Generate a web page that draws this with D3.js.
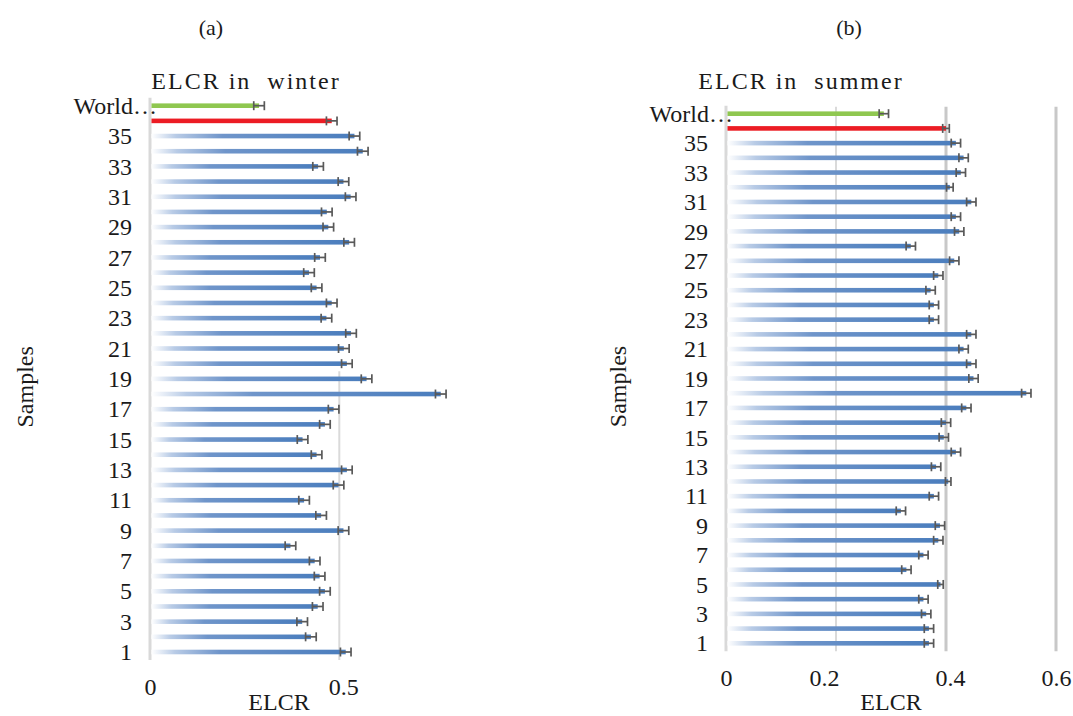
<!DOCTYPE html>
<html>
<head>
<meta charset="utf-8">
<script src="https://cdn.jsdelivr.net/npm/d3@7"></script>
<style>
    body { margin: 0; background: #fff; }
    text { font-family: "Liberation Serif", "Times New Roman", serif; fill: #1a1a1a; }
</style>
</head>
<body>
<svg id="chart"></svg>
<script>
// Sample ids, then the mean (red bar, label hidden) and the world value (green bar)
const categories = ['1', '2', '3', '4', '5', '6', '7', '8', '9', '10',
    '11', '12', '13', '14', '15', '16', '17', '18', '19', '20',
    '21', '22', '23', '24', '25', '26', '27', '28', '29', '30',
    '31', '32', '33', '34', '35', 'Mean', 'World…'];

const winterValues = [0.517, 0.425, 0.402, 0.443, 0.462, 0.448, 0.435, 0.371, 0.511, 0.452,
    0.407, 0.498, 0.520, 0.440, 0.403, 0.462, 0.485, 0.768, 0.572, 0.520,
    0.512, 0.531, 0.466, 0.480, 0.440, 0.420, 0.449, 0.526, 0.471, 0.467,
    0.530, 0.511, 0.444, 0.562, 0.540, 0.480, 0.288];
const winterErrors = [0.014, 0.014, 0.014, 0.014, 0.014, 0.014, 0.014, 0.014, 0.014, 0.014,
    0.014, 0.014, 0.014, 0.014, 0.014, 0.014, 0.014, 0.014, 0.014, 0.014,
    0.014, 0.014, 0.014, 0.014, 0.014, 0.014, 0.014, 0.014, 0.014, 0.014,
    0.014, 0.014, 0.014, 0.014, 0.014, 0.014, 0.014];

const summerValues = [0.369, 0.369, 0.364, 0.359, 0.390, 0.328, 0.359, 0.386, 0.389, 0.318,
    0.378, 0.404, 0.382, 0.418, 0.396, 0.400, 0.437, 0.546, 0.450, 0.446,
    0.432, 0.446, 0.378, 0.378, 0.372, 0.386, 0.415, 0.336, 0.424, 0.418,
    0.446, 0.407, 0.427, 0.432, 0.418, 0.400, 0.287];
const summerErrors = [0.0085, 0.0085, 0.0085, 0.0085, 0.005, 0.0085, 0.0085, 0.0085, 0.0085, 0.0085,
    0.0085, 0.005, 0.0085, 0.0085, 0.0085, 0.0085, 0.0085, 0.0085, 0.0085, 0.0085,
    0.0085, 0.0085, 0.0085, 0.0085, 0.0085, 0.0085, 0.0085, 0.0085, 0.0085, 0.0085,
    0.0085, 0.006, 0.0085, 0.0085, 0.0085, 0.006, 0.0085];

const winterTicks = [0, 0.5];
const summerTicks = [0, 0.2, 0.4, 0.6];

class ElcrChart {
    constructor(_config, _data) {
        this.config = {
            svg: _config.svg,
            xRange: _config.xRange,
            yRange: _config.yRange,
            xMax: _config.xMax,
            ticks: _config.ticks,
            title: _config.title,
            titleX: _config.titleX,
            panelLabel: _config.panelLabel,
            panelLabelX: _config.panelLabelX,
            samplesX: _config.samplesX,
            axisLabel: _config.axisLabel,
            tickShift: _config.tickShift || {},
            partialGrid: _config.partialGrid || null
        }
        this.data = _data;
        this.initVis();
    }

    initVis() {
        let vis = this;

        vis.xScale = d3.scaleLinear()
            .domain([0, vis.config.xMax])
            .range(vis.config.xRange);

        vis.yScale = d3.scalePoint()
            .domain(categories)
            .range(vis.config.yRange);

        vis.top = vis.yScale('World…') - 8;
        vis.bottom = vis.yScale('1') + 8;

        vis.chart = vis.config.svg.append('g');

        vis.renderVis();
    }

    renderVis() {
        let vis = this;
        const step = vis.yScale.step();

        // Vertical gridlines
        vis.chart.selectAll('.grid')
            .data(vis.config.ticks)
            .join('line')
            .attr('class', 'grid')
            .attr('x1', d => vis.xScale(d))
            .attr('x2', d => vis.xScale(d))
            .attr('y1', d => {
                if (d > 0 && vis.config.partialGrid) return vis.yScale(vis.config.partialGrid) + step / 2;
                return d === 0 ? vis.top : vis.top + 1;
            })
            .attr('y2', vis.bottom)
            .attr('stroke', (d, i) => (i === 1 ? '#dadada' : (d === 0 ? '#d9d9d9' : '#c8c8c8')))
            .attr('stroke-width', (d, i) => (i === 1 ? 2 : 3));

        const x0 = vis.xScale(0) + 1.5;

        vis.chart.selectAll('.bar')
            .data(vis.data)
            .join('rect')
            .attr('class', 'bar')
            .attr('x', x0)
            .attr('y', d => vis.yScale(d.cat) - 2.3)
            .attr('width', d => vis.xScale(d.value) - x0)
            .attr('height', 4.6)
            .attr('fill', d => {
                if (d.cat === 'World…') return '#8fc750';
                if (d.cat === 'Mean') return '#ec1c24';
                return 'url(#barGrad)';
            });

        // Error bars
        const err = vis.chart.selectAll('.err')
            .data(vis.data)
            .join('g')
            .attr('class', 'err')
            .attr('stroke', '#595959')
            .attr('stroke-width', 1.7);

        err.append('line')
            .attr('x1', d => vis.xScale(d.value - d.error))
            .attr('x2', d => vis.xScale(d.value + d.error))
            .attr('y1', d => vis.yScale(d.cat))
            .attr('y2', d => vis.yScale(d.cat));
        err.append('line')
            .attr('x1', d => vis.xScale(d.value - d.error))
            .attr('x2', d => vis.xScale(d.value - d.error))
            .attr('y1', d => vis.yScale(d.cat) - 4.5)
            .attr('y2', d => vis.yScale(d.cat) + 4.5);
        err.append('line')
            .attr('x1', d => vis.xScale(d.value + d.error))
            .attr('x2', d => vis.xScale(d.value + d.error))
            .attr('y1', d => vis.yScale(d.cat) - 4.5)
            .attr('y2', d => vis.yScale(d.cat) + 4.5);

        // Category axis, every other label
        vis.yAxis = d3.axisLeft(vis.yScale)
            .tickValues(categories.filter((d, i) => i % 2 === 0))
            .tickSize(0)
            .tickPadding(18);

        vis.yAxisG = vis.chart.append('g')
            .attr('transform', `translate(${vis.xScale(0)},0)`)
            .call(vis.yAxis);
        vis.yAxisG.select('.domain').remove();
        vis.yAxisG.selectAll('text')
            .attr('font-size', 24)
            .attr('font-family', null)
            .attr('fill', null)
            .attr('dx', d => (d === 'World…' ? 25 : 0));

        vis.xAxis = d3.axisBottom(vis.xScale)
            .tickValues(vis.config.ticks)
            .tickSize(0)
            .tickPadding(18)
            .tickFormat(d => String(d));

        vis.xAxisG = vis.chart.append('g')
            .attr('transform', `translate(0,${vis.bottom})`)
            .call(vis.xAxis);
        vis.xAxisG.select('.domain').remove();
        vis.xAxisG.selectAll('text')
            .attr('font-size', 24)
            .attr('font-family', null)
            .attr('fill', null)
            .attr('dx', d => vis.config.tickShift[d] || 0);

        // Axis titles
        vis.chart.append('text')
            .attr('x', vis.config.axisLabel[0])
            .attr('y', vis.config.axisLabel[1])
            .attr('text-anchor', 'middle')
            .attr('font-size', 24)
            .text('ELCR');

        vis.chart.append('text')
            .attr('transform', `translate(${vis.config.samplesX}, ${(vis.top + vis.bottom) / 2 + 8}) rotate(-90)`)
            .attr('text-anchor', 'middle')
            .attr('font-size', 24)
            .text('Samples');

        vis.chart.append('text')
            .attr('x', vis.config.titleX)
            .attr('y', 89)
            .attr('text-anchor', 'middle')
            .attr('font-size', 24)
            .attr('letter-spacing', 2)
            .style('white-space', 'pre')
            .text(vis.config.title);

        vis.chart.append('text')
            .attr('x', vis.config.panelLabelX)
            .attr('y', 35)
            .attr('text-anchor', 'middle')
            .attr('font-size', 22)
            .text(vis.config.panelLabel);
    }
}

const svg = d3.select('#chart')
    .attr('width', 1073)
    .attr('height', 716);

// Blue bars fade in from the left
const grad = svg.append('defs').append('linearGradient')
    .attr('id', 'barGrad')
    .attr('x1', '0%').attr('x2', '100%')
    .attr('y1', '0%').attr('y2', '0%');
grad.append('stop').attr('offset', '0%').attr('stop-color', '#ffffff');
grad.append('stop').attr('offset', '12%').attr('stop-color', '#b8cbe6');
grad.append('stop').attr('offset', '35%').attr('stop-color', '#6f95ca');
grad.append('stop').attr('offset', '100%').attr('stop-color', '#4a7dbd');

const winterData = categories.map((c, i) => ({ cat: c, value: winterValues[i], error: winterErrors[i] }));
const summerData = categories.map((c, i) => ({ cat: c, value: summerValues[i], error: summerErrors[i] }));

new ElcrChart({
    svg: svg,
    xRange: [150, 339.3],
    yRange: [652, 105.7],
    xMax: 0.5,
    ticks: winterTicks,
    title: 'ELCR in  winter',
    titleX: 246,
    panelLabel: '(a)',
    panelLabelX: 211,
    samplesX: 33,
    axisLabel: [279, 710],
    tickShift: { 0.5: 4 },
    partialGrid: '20'
}, winterData);

new ElcrChart({
    svg: svg,
    xRange: [726, 1056],
    yRange: [643.3, 113.7],
    xMax: 0.6,
    ticks: summerTicks,
    title: 'ELCR in  summer',
    titleX: 801,
    panelLabel: '(b)',
    panelLabelX: 849,
    samplesX: 626,
    axisLabel: [891, 710],
    tickShift: { 0.2: -12, 0.4: 4 }
}, summerData);
</script>
</body>
</html>
